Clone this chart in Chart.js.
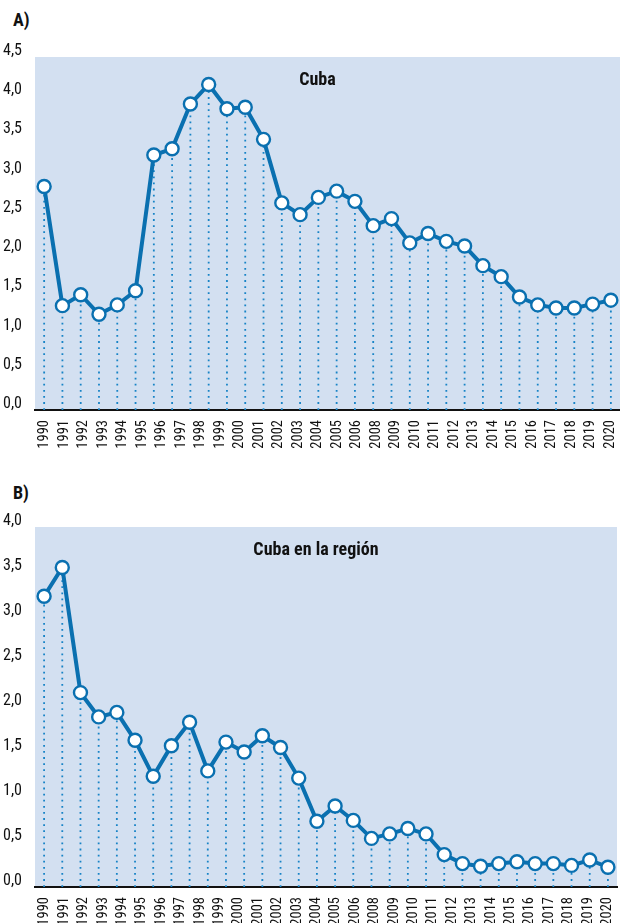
<!DOCTYPE html>
<html>
<head>
<meta charset="utf-8">
<script src="https://cdn.jsdelivr.net/npm/chart.js@4"></script>
<style>
  body { margin: 0; background: #fff; width: 620px; height: 923px; position: relative; overflow: hidden; }
  .box { position: absolute; left: 0; }
  .tag { position: absolute; left: 13px; font: bold 18px 'Roboto Condensed', 'DejaVu Sans Condensed', sans-serif; color: #111; }
</style>
</head>
<body>
<div class="tag" style="top:9px">A)</div>
<div class="tag" style="top:482px">B)</div>
<div class="box" style="top:0; width:620px; height:455px"><canvas id="chartA" width="620" height="455"></canvas></div>
<div class="box" style="top:470px; width:620px; height:462px"><canvas id="chartB" width="620" height="462"></canvas></div>
<script>
// year labels printed under the axis (2007 is missing in the source)
var tickLabels = [
  '1990', '1991', '1992', '1993', '1994', '1995', '1996', '1997', '1998', '1999',
  '2000', '2001', '2002', '2003', '2004', '2005', '2006', '2008', '2009', '2010',
  '2011', '2012', '2013', '2014', '2015', '2016', '2017', '2018', '2019', '2020'
];

// the source plots 32 points against those 30 labels
var cubaValues = [
  2.85, 1.33, 1.47, 1.22, 1.34, 1.52, 3.25, 3.33, 3.90, 4.15,
  3.84, 3.86, 3.45, 2.64, 2.49, 2.71, 2.79, 2.66, 2.35, 2.44,
  2.13, 2.25, 2.15, 2.09, 1.84, 1.70, 1.44, 1.34, 1.30, 1.30,
  1.35, 1.40
];

var regionValues = [
  3.23, 3.55, 2.16, 1.89, 1.94, 1.63, 1.23, 1.57, 1.83, 1.29,
  1.61, 1.50, 1.68, 1.55, 1.21, 0.73, 0.90, 0.74, 0.54, 0.59,
  0.65, 0.59, 0.36, 0.26, 0.23, 0.26, 0.28, 0.26, 0.26, 0.24,
  0.30, 0.22
];

var font = "'Roboto Condensed', 'DejaVu Sans Condensed', sans-serif";
var blue = '#0a70b0';
var dotBlue = '#1783c6';
var plotBg = '#d3e0f1';

var plotDecor = {
  id: 'plotDecor',
  beforeDraw: (chart) => {
    var a = chart.chartArea;
    var ctx = chart.ctx;
    ctx.save();
    ctx.fillStyle = plotBg;
    ctx.fillRect(a.left, a.top, a.right - a.left, a.bottom - a.top);
    ctx.restore();
  },
  beforeDatasetsDraw: (chart) => {
    var a = chart.chartArea;
    var ctx = chart.ctx;
    ctx.save();
    ctx.strokeStyle = dotBlue;
    ctx.lineWidth = 1.8;
    ctx.setLineDash([1.8, 4.3]);
    chart.getDatasetMeta(0).data.forEach((pt) => {
      ctx.beginPath();
      ctx.moveTo(pt.x, a.bottom);
      ctx.lineTo(pt.x, pt.y);
      ctx.stroke();
    });
    ctx.restore();
  },
  afterDatasetsDraw: (chart, args, opts) => {
    var a = chart.chartArea;
    var ctx = chart.ctx;
    ctx.save();
    ctx.fillStyle = '#111';
    ctx.font = 'bold 18px ' + font;
    ctx.textAlign = 'center';
    ctx.textBaseline = 'middle';
    ctx.fillText(opts.text, (a.left + a.right) / 2 - 10, a.top + 23);
    ctx.restore();
  }
};

function makeChart(id, values, yMax, title, rightPad) {
  var slots = values.map((v, i) => String(i));

  return new Chart(document.getElementById(id), {
    type: 'line',
    data: {
      labels: slots,
      datasets: [{
        data: values,
        borderColor: blue,
        borderWidth: 4,
        pointRadius: 6.5,
        pointBorderWidth: 2.4,
        pointBackgroundColor: '#fff',
        pointBorderColor: blue,
        tension: 0,
        clip: false
      }]
    },
    options: {
      responsive: false,
      animation: false,
      layout: { autoPadding: false, padding: { top: 57, right: rightPad, left: 0, bottom: 0 } },
      plugins: {
        legend: { display: false },
        tooltip: { enabled: false },
        plotDecor: { text: title }
      },
      scales: {
        x: {
          type: 'category',
          display: false,
          offset: true
        },
        x2: {
          type: 'category',
          position: 'bottom',
          labels: tickLabels,
          offset: true,
          grid: { display: false },
          border: { display: true, color: '#111', width: 2 },
          ticks: {
            autoSkip: false,
            minRotation: 90,
            maxRotation: 90,
            padding: 2,
            color: '#111',
            font: { family: font, size: 14.5 }
          },
          afterFit: (scale) => {
            scale.height = 45;
            scale.paddingLeft = 0;
            scale.paddingRight = 0;
          }
        },
        y: {
          min: 0,
          max: yMax,
          grid: { display: false },
          border: { display: false },
          ticks: {
            stepSize: 0.5,
            padding: 5,
            labelOffset: -6,
            color: '#111',
            font: { family: font, size: 16 },
            callback: (v) => v.toFixed(1).replace('.', ',')
          },
          afterFit: (scale) => {
            scale.width = 35;
            scale.paddingTop = 0;
            scale.paddingBottom = 0;
          }
        }
      }
    },
    plugins: [plotDecor]
  });
}

makeChart('chartA', cubaValues, 4.5, 'Cuba', 0);
makeChart('chartB', regionValues, 4.0, 'Cuba en la región', 3);
</script>
</body>
</html>
